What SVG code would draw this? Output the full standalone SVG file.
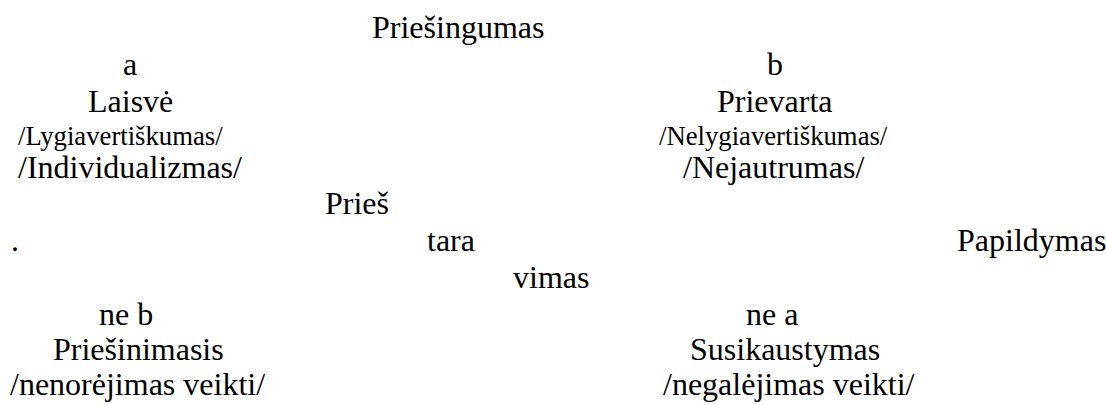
<svg xmlns="http://www.w3.org/2000/svg" width="1106" height="405" viewBox="0 0 1106 405" font-family="Liberation Serif, Times New Roman, serif">
<style>
text{font-family:"Liberation Serif","Times New Roman",serif;fill:#000;font-size:32px}
.s{font-size:26.7px}
</style>
<rect width="1106" height="405" fill="#fff"/>
<g id="title"><text x="372" y="38">Priešingumas</text></g>
<g id="node-a">
<text x="123" y="75">a</text>
<text x="88" y="112">Laisvė</text>
<text class="s" x="18" y="145">/Lygiavertiškumas/</text>
<text x="18" y="178">/Individualizmas/</text>
</g>
<g id="node-b">
<text x="767" y="75">b</text>
<text x="717" y="112">Prievarta</text>
<text class="s" x="659" y="145">/Nelygiavertiškumas/</text>
<text x="683" y="178">/Nejautrumas/</text>
</g>
<g id="label-prieštaravimas">
<text x="325" y="214">Prieš</text>
<text x="427" y="251">tara</text>
<text x="513" y="288">vimas</text>
</g>
<g id="dot"><text x="11" y="251">.</text></g>
<g id="label-papildymas"><text x="957" y="251">Papildymas</text></g>
<g id="node-ne-b">
<text x="99" y="325">ne b</text>
<text x="53" y="360">Priešinimasis</text>
<text x="10" y="395">/nenorėjimas veikti/</text>
</g>
<g id="node-ne-a">
<text x="746" y="325">ne a</text>
<text x="690" y="360">Susikaustymas</text>
<text x="663" y="395">/negalėjimas veikti/</text>
</g>
<g id="connectors"></g>
</svg>
